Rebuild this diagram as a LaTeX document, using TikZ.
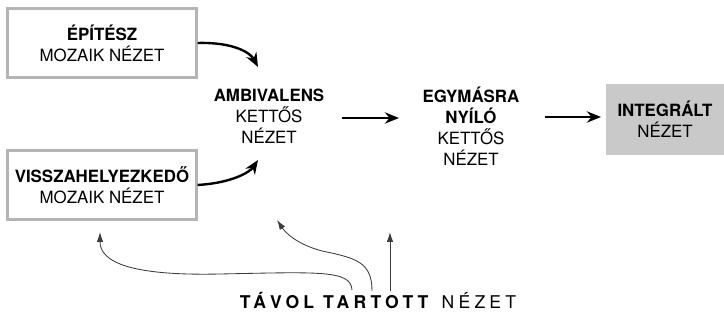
\documentclass[tikz,border=0pt]{standalone}
\usepackage{fontspec}
\setmainfont{TeX Gyre Heros}
\newfontfamily\widefont[LetterSpace=24]{TeX Gyre Heros}
\usetikzlibrary{arrows.meta, positioning}
\definecolor{boxgray}{RGB}{180,180,180}
\definecolor{fillgray}{RGB}{201,201,201}
\definecolor{thingray}{RGB}{60,60,60}
\tikzstyle{mosaic} = [draw=boxgray, line width=1.6pt, minimum width=4.72cm, minimum height=1.72cm, align=center]
\tikzstyle{view} = [align=center, inner sep=2pt]
\tikzstyle{integral} = [fill=fillgray, minimum width=2.95cm, minimum height=1.78cm, align=center]
\tikzstyle{strong} = [-{Stealth[length=10pt, width=8pt]}, line width=1.7pt]
\tikzstyle{weak} = [-{Latex[length=7pt, width=4.5pt]}, draw=thingray, line width=0.6pt]

\begin{document}
\begin{tikzpicture}[x=0.025cm, y=-0.025cm, every node/.style={font=\fontsize{12}{15}\selectfont}]
	\useasboundingbox (0,0) rectangle (724,320);

	\node (Architect) [mosaic] at (102,43) {\textbf{ÉPÍTÉSZ}\\MOZAIK NÉZET};
	\node (Relocating) [mosaic] at (102,185) {\textbf{VISSZAHELYEZKEDŐ}\\MOZAIK NÉZET};

	\node (Ambivalent) [view] at (269,116) {\textbf{AMBIVALENS}\\KETTŐS\\NÉZET};
	\coordinate (AmbTop) at (258,67);
	\coordinate (AmbBottom) at (258,160);
	\draw[strong] (Architect.east) .. controls (232,42) and (250,52) .. (AmbTop);
	\draw[strong] (Relocating.east) .. controls (232,183) and (250,172) .. (AmbBottom);

	\node (Opening) [view] at (471,126) {\textbf{EGYMÁSRA}\\\textbf{NYÍLÓ}\\KETTŐS\\NÉZET};
	\coordinate (AmbOut) at (342,118);
	\coordinate (OpenIn) at (399,118);
	\draw[strong] (AmbOut) -- (OpenIn);

	\node (Integrated) [integral] at (665,119.5) {\textbf{INTEGRÁLT}\\NÉZET};
	\coordinate (OpenOut) at (545,117);
	\coordinate (IntIn) at (601,117);
	\draw[strong] (OpenOut) -- (IntIn);

	\node (Distant) at (378,301) {\fontsize{12.5}{15}\widefont\textbf{TÁVOL TARTOTT} NÉZET};
	\coordinate (DistLeft) at (352,290);
	\coordinate (DistMid) at (372,291);
	\coordinate (DistRight) at (390,291);
	\coordinate (RelocUnder) at (100,232);
	\coordinate (AmbUnder) at (277,220);
	\coordinate (OpenUnder) at (390,232);
	\draw[weak] (DistLeft) .. controls (351,270) and (320,272) .. (220,274)
		.. controls (130,276) and (100,262) .. (RelocUnder);
	\draw[weak] (DistMid) .. controls (372,262) and (356,258) .. (322,251)
		.. controls (296,244) and (285,232) .. (AmbUnder);
	\draw[weak] (DistRight) -- (OpenUnder);
\end{tikzpicture}
\end{document}
